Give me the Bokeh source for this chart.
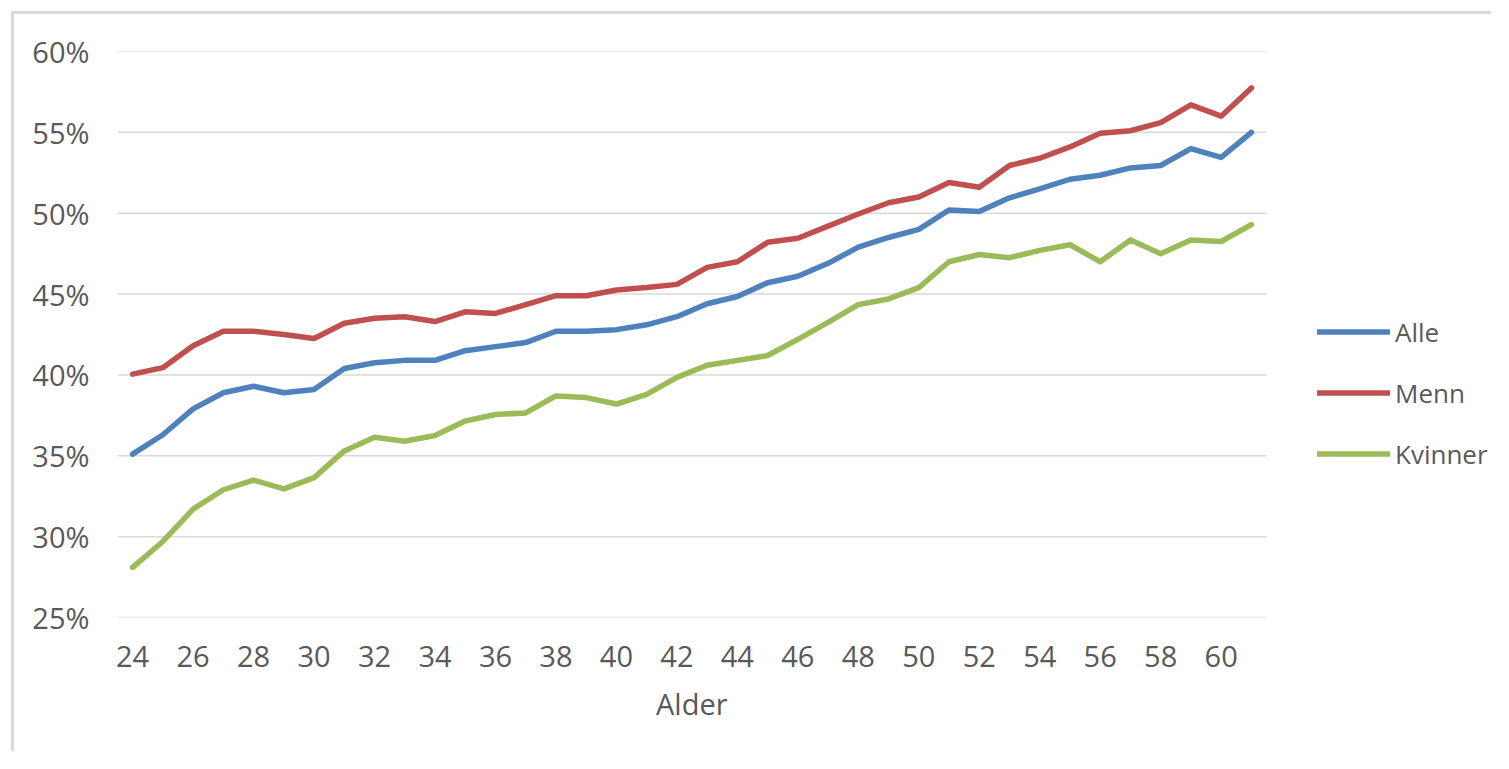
from bokeh.plotting import figure
from bokeh.models import FixedTicker, PrintfTickFormatter, Legend, LegendItem, Range1d, Title
from bokeh.embed import file_html
from bokeh.resources import INLINE

ages = list(range(24, 62))
alle = [35.1, 36.3, 37.9, 38.9, 39.3, 38.9, 39.1, 40.4, 40.75, 40.9, 40.9, 41.5, 41.75,
        42.0, 42.7, 42.7, 42.8, 43.1, 43.6, 44.4, 44.85, 45.7, 46.1, 46.9, 47.9,
        48.5, 49.0, 50.2, 50.1, 50.95, 51.5, 52.1, 52.35, 52.8, 52.95, 54.0, 53.45, 55.0]
menn = [40.05, 40.45, 41.8, 42.7, 42.7, 42.5, 42.25, 43.2, 43.5, 43.6, 43.3, 43.9, 43.8,
        44.35, 44.9, 44.9, 45.25, 45.4, 45.6, 46.65, 47.0, 48.2, 48.45, 49.2, 49.95,
        50.65, 51.0, 51.9, 51.6, 52.95, 53.4, 54.1, 54.95, 55.1, 55.6, 56.7, 56.0, 57.75]
kvinner = [28.1, 29.7, 31.7, 32.9, 33.5, 32.95, 33.65, 35.3, 36.15, 35.9, 36.25, 37.15, 37.55,
           37.65, 38.7, 38.6, 38.2, 38.8, 39.85, 40.6, 40.9, 41.2, 42.2, 43.25, 44.35,
           44.7, 45.4, 47.0, 47.45, 47.25, 47.7, 48.05, 47.0, 48.35, 47.5, 48.35, 48.25, 49.3]
series_names = ["Alle", "Menn", "Kvinner"]
series_colors = ["#4F81BD", "#C0504D", "#9BBB59"]
x_ticks = list(range(24, 61, 2))
y_ticks = [25, 30, 35, 40, 45, 50, 55, 60]
x_title = "Alder"

FONT = "Open Sans"
TXT = "#595959"

W, H = 1480, 740
LEFT, TOP, BOTTOM = 103, 37, 137
PLOT_W = 1149                     # width of the plotted category area in px
x0 = ages[0] - 0.5
x1_cat = ages[-1] + 0.5
px_per_unit = PLOT_W / (x1_cat - x0)
x_end = x0 + (W - LEFT) / px_per_unit

p = figure(width=W, height=H, output_backend="svg", toolbar_location=None,
           x_range=Range1d(x0, x_end), y_range=Range1d(y_ticks[0], y_ticks[-1]),
           min_border_left=LEFT, min_border_right=0, min_border_top=TOP, min_border_bottom=BOTTOM)
p.styles = {"border-left": "3px solid #d9d9d9", "border-top": "3px solid #d9d9d9",
            "margin-left": "11px", "margin-top": "11px"}
p.outline_line_color = None
p.background_fill_color = "white"
p.border_fill_color = "white"

p.xgrid.grid_line_color = None
p.ygrid.grid_line_color = None
# horizontal gridlines spanning only the category area
p.segment(x0=[x0] * len(y_ticks), x1=[x1_cat] * len(y_ticks), y0=y_ticks, y1=y_ticks,
          line_color="#d9d9d9", line_width=1.5)

p.yaxis.ticker = FixedTicker(ticks=y_ticks)
p.yaxis.formatter = PrintfTickFormatter(format="%d%%")
p.xaxis.ticker = FixedTicker(ticks=x_ticks)
for ax in (p.xaxis, p.yaxis):
    ax.axis_line_color = None
    ax.major_tick_line_color = None
    ax.minor_tick_line_color = None
    ax.major_tick_out = 0
    ax.major_tick_in = 0
    ax.major_label_text_font = FONT
    ax.major_label_text_font_size = "29px"
    ax.major_label_text_color = TXT
p.yaxis.major_label_standoff = 28
p.xaxis.major_label_standoff = 28

items = []
for name, col, vals in zip(series_names, series_colors, [alle, menn, kvinner]):
    r = p.line(ages, vals, line_color=col, line_width=5.5, line_cap="round", line_join="round")
    items.append(LegendItem(label=name, renderers=[r]))

# x-axis title centred under the category area (the frame extends further right for the legend)
title_w = 72
p.add_layout(Title(text=x_title, align="left", offset=PLOT_W / 2 - title_w / 2,
                   text_font=FONT, text_font_size="29px", text_font_style="normal",
                   text_color=TXT, standoff=25), "below")

legend = Legend(items=items, location=(1200, 133), glyph_width=73, glyph_height=61,
                label_height=61, spacing=0, padding=0, margin=0, label_standoff=5,
                border_line_color=None, background_fill_alpha=0,
                label_text_font=FONT, label_text_font_size="26px", label_text_color=TXT)
p.add_layout(legend)

open("out.html", "w").write(file_html(p, INLINE))
